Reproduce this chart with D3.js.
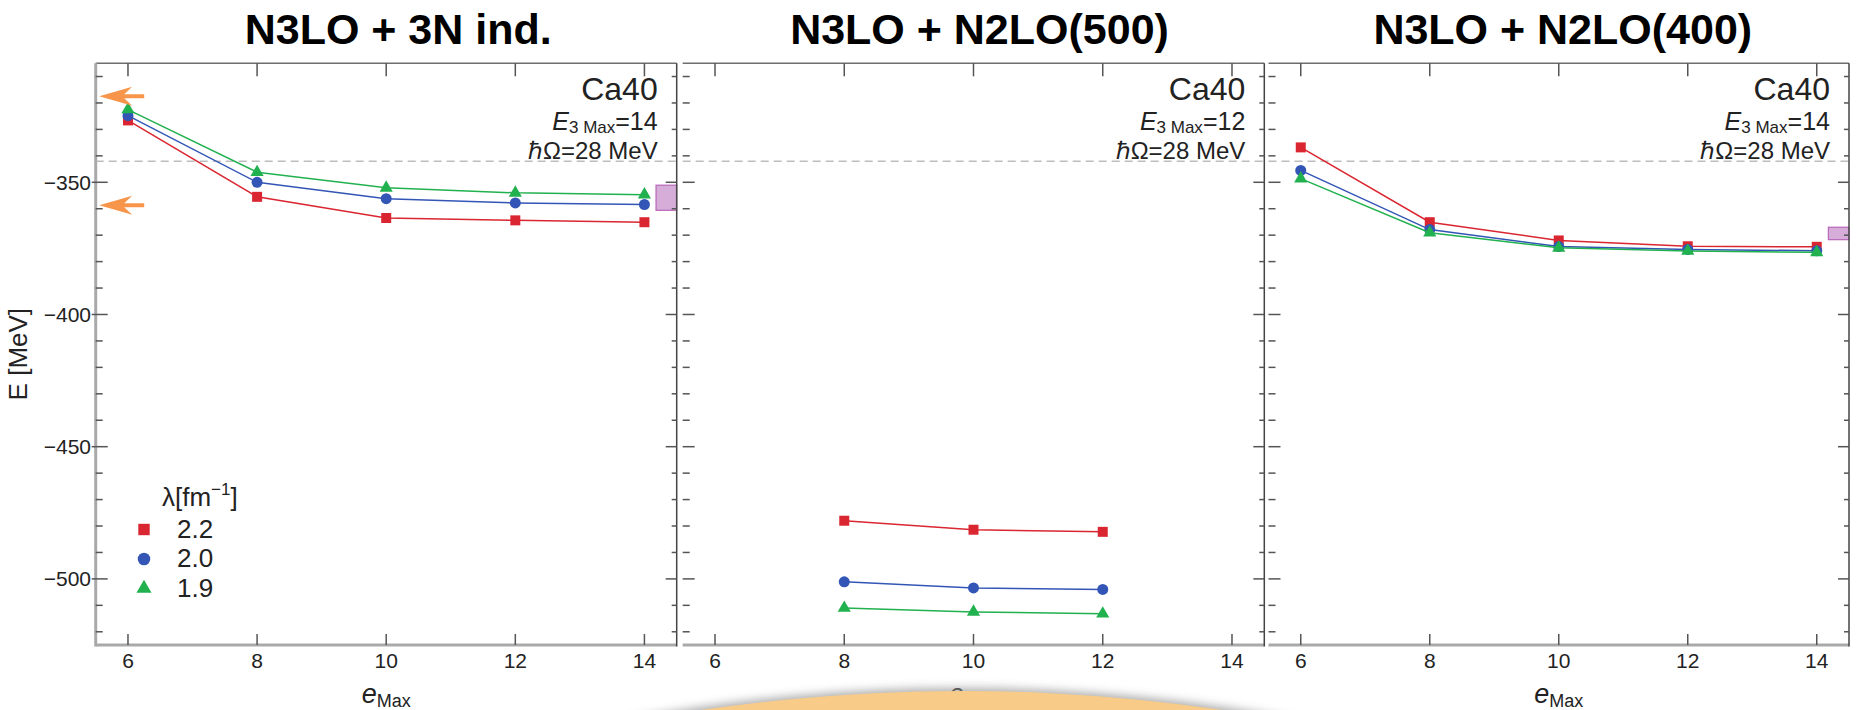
<!DOCTYPE html>
<html>
<head>
<meta charset="utf-8">
<script src="https://cdn.jsdelivr.net/npm/d3@7"></script>
<style>
  body { margin: 0; background: #fff; }
  svg { display: block; font-family: "Liberation Sans", Arial, Helvetica, sans-serif; }
</style>
</head>
<body>
<svg id="chart" width="1861" height="710"></svg>
<script>
// ---- data ----
const emaxAll = [6, 8, 10, 12, 14];
const emaxN2LO500 = [8, 10, 12];
const xTicks = [6, 8, 10, 12, 14];
const yMajorTicks = [-500, -450, -400, -350];
const panelTitles = ["N3LO + 3N ind.", "N3LO + N2LO(500)", "N3LO + N2LO(400)"];
const e3MaxValues = [14, 12, 14];
const lambdaLabels = ["2.2", "2.0", "1.9"];

// ground-state energy of 40Ca [MeV], lambda = 2.2 / 2.0 / 1.9 fm^-1
const ind3N_22 = [-326.6, -355.5, -363.5, -364.4, -365.1];
const ind3N_20 = [-324.8, -350.0, -356.2, -357.8, -358.4];
const ind3N_19 = [-322.5, -346.2, -352.1, -354.0, -354.7];

const n2lo500_22 = [-478.0, -481.4, -482.2];
const n2lo500_20 = [-501.1, -503.4, -504.0];
const n2lo500_19 = [-511.0, -512.5, -513.2];

const n2lo400_22 = [-336.8, -365.1, -372.0, -374.2, -374.4];
const n2lo400_20 = [-345.5, -367.9, -374.3, -375.4, -375.9];
const n2lo400_19 = [-348.6, -369.1, -374.8, -376.0, -376.5];

const expEnergy = -342.05;               // experimental binding energy
const arrowEnergies = [-317.5, -358.7];  // reference values marked with arrows
const band3Nind = [-360.6, -351.1];      // extrapolation band
const bandN2LO400 = [-371.7, -367.0];

// ---- styling ----
const seriesColors = ["#da2630", "#3356b6", "#22b14f"];
const seriesSymbols = [d3.symbolSquare, d3.symbolCircle, d3.symbolTriangle];
const symbolSizes = [100, 95, 75];

const panels = [
  { title: panelTitles[0], e3: e3MaxValues[0], x: emaxAll, series: [ind3N_22, ind3N_20, ind3N_19], band: band3Nind, px: [95.7, 676.7], titleShift: 12 },
  { title: panelTitles[1], e3: e3MaxValues[1], x: emaxN2LO500, series: [n2lo500_22, n2lo500_20, n2lo500_19], band: null, px: [682.7, 1264.3], titleShift: 6 },
  { title: panelTitles[2], e3: e3MaxValues[2], x: emaxAll, series: [n2lo400_22, n2lo400_20, n2lo400_19], band: bandN2LO400, px: [1268.5, 1849], titleShift: 4 }
];

const svg = d3.select("#chart");
const plotTop = 63.3, plotBottom = 645;
const y = d3.scaleLinear().domain([-525, -305]).range([plotBottom, plotTop]);
const yMinor = d3.range(-520, -305, 10);
const fmt = d3.format("d");

panels.forEach((p, i) => {
  const x = d3.scaleLinear().domain([5.5, 14.5]).range(p.px);
  const g = svg.append("g");
  const L = p.px[0], R = p.px[1];

  // experimental line
  g.append("line")
    .attr("x1", L).attr("x2", R)
    .attr("y1", y(expEnergy)).attr("y2", y(expEnergy))
    .attr("stroke", "#bdbdbd").attr("stroke-width", 1.6)
    .attr("stroke-dasharray", "8,5");

  // extrapolation band
  if (p.band) {
    g.append("rect")
      .attr("x", x(14.18)).attr("width", x(14.5) - x(14.18))
      .attr("y", y(p.band[1])).attr("height", y(p.band[0]) - y(p.band[1]))
      .attr("fill", "#d6acd8").attr("stroke", "#b866ba").attr("stroke-width", 1.2);
  }

  // series
  p.series.forEach((vals, s) => {
    const pts = vals.map((v, k) => [p.x[k], v]);
    g.append("path")
      .attr("d", d3.line().x(d => x(d[0])).y(d => y(d[1]))(pts))
      .attr("fill", "none").attr("stroke", seriesColors[s]).attr("stroke-width", 1.5);
    g.selectAll(null).data(pts).enter().append("path")
      .attr("transform", d => `translate(${x(d[0])},${y(d[1])})`)
      .attr("d", d3.symbol().type(seriesSymbols[s]).size(symbolSizes[s]))
      .attr("fill", seriesColors[s]);
  });

  // frame
  g.append("line").attr("x1", L).attr("x2", R).attr("y1", plotTop).attr("y2", plotTop)
    .attr("stroke", "#6e6e6e").attr("stroke-width", 1.5);
  g.append("line").attr("x1", L).attr("x2", R).attr("y1", plotBottom).attr("y2", plotBottom)
    .attr("stroke", "#a9a9a9").attr("stroke-width", 3);
  g.append("line").attr("x1", R).attr("x2", R).attr("y1", plotTop).attr("y2", plotBottom + 1.5)
    .attr("stroke", "#444").attr("stroke-width", 1.5);
  if (i === 0) {
    g.append("line").attr("x1", L).attr("x2", L).attr("y1", plotTop).attr("y2", plotBottom + 1.5)
      .attr("stroke", "#a9a9a9").attr("stroke-width", 3);
  }

  const tickColor = "#555";
  // y ticks (left & right)
  yMinor.forEach(v => {
    const major = v % 50 === 0;
    const yy = y(v);
    g.append("line")
      .attr("x1", i === 0 ? (major ? L - 4 : L) : L)
      .attr("x2", L + (major ? 12 : 7))
      .attr("y1", yy).attr("y2", yy)
      .attr("stroke", tickColor).attr("stroke-width", 1.5);
    g.append("line")
      .attr("x1", R - (major ? 11 : 5)).attr("x2", R)
      .attr("y1", yy).attr("y2", yy)
      .attr("stroke", tickColor).attr("stroke-width", 1.5);
  });
  // x ticks (top & bottom)
  xTicks.forEach(t => {
    g.append("line").attr("x1", x(t)).attr("x2", x(t)).attr("y1", plotTop).attr("y2", plotTop + 13)
      .attr("stroke", tickColor).attr("stroke-width", 1.5);
    g.append("line").attr("x1", x(t)).attr("x2", x(t)).attr("y1", plotBottom - 11).attr("y2", plotBottom)
      .attr("stroke", tickColor).attr("stroke-width", 1.5);
    g.append("text").attr("x", x(t)).attr("y", 668)
      .attr("text-anchor", "middle").attr("font-size", 21).attr("fill", "#222")
      .text(fmt(t));
  });

  // title
  g.append("text").attr("x", (L + R) / 2 + p.titleShift).attr("y", 44)
    .attr("text-anchor", "middle").attr("font-size", 43).attr("font-weight", "bold")
    .attr("fill", "#000").text(p.title);

  // nucleus / model-space annotation
  const ax = R - 19;
  g.append("text").attr("x", ax).attr("y", 100).attr("text-anchor", "end")
    .attr("font-size", 32).attr("fill", "#222").text("Ca40");
  const e3 = g.append("text").attr("x", ax).attr("y", 130).attr("text-anchor", "end")
    .attr("font-size", 25).attr("fill", "#222");
  e3.append("tspan").attr("font-style", "italic").text("E");
  e3.append("tspan").attr("font-size", 17).attr("dy", 3).text("3 Max");
  e3.append("tspan").attr("dy", -3).text("=" + p.e3);
  g.append("text").attr("x", ax).attr("y", 159).attr("text-anchor", "end")
    .attr("font-size", 24).attr("fill", "#222").text("ℏΩ=28 MeV");

  // x label
  const xl = g.append("text").attr("x", (L + R) / 2).attr("y", 703)
    .attr("text-anchor", "middle").attr("font-size", 27).attr("fill", "#222");
  xl.append("tspan").attr("font-style", "italic").text("e");
  xl.append("tspan").attr("font-size", 18).attr("dy", 4).text("Max");

  if (i === 0) {
    // y tick labels
    yMajorTicks.forEach(v => {
      g.append("text").attr("x", 91).attr("y", y(v))
        .attr("dy", "0.36em").attr("text-anchor", "end")
        .attr("font-size", 21).attr("fill", "#222").text(fmt(v));
    });
    // y label
    g.append("text").attr("transform", `translate(27,${(plotTop + plotBottom) / 2}) rotate(-90)`)
      .attr("text-anchor", "middle").attr("font-size", 26).attr("fill", "#222")
      .text("E [MeV]");

    // reference arrows
    arrowEnergies.forEach(v => {
      const tx = x(5.5) + 3.5, ty = y(v);
      g.append("path")
        .attr("d", `M${tx},${ty} L${tx + 33},${ty - 9.5} L${tx + 25},${ty - 2} L${tx + 45},${ty - 2} L${tx + 45},${ty + 2} L${tx + 25},${ty + 2} L${tx + 33},${ty + 9.5} Z`)
        .attr("fill", "#f7964a");
    });

    // legend
    const lg = g.append("g");
    const lh = lg.append("text").attr("x", 162).attr("y", 506).attr("font-size", 26).attr("fill", "#222");
    lh.append("tspan").text("λ[fm");
    lh.append("tspan").attr("font-size", 17).attr("dy", -11).text("−1");
    lh.append("tspan").attr("dy", 11).text("]");
    lambdaLabels.forEach((lab, s) => {
      const yy = 529.5 + s * 29.5;
      lg.append("path").attr("transform", `translate(144,${yy})`)
        .attr("d", d3.symbol().type(seriesSymbols[s]).size(symbolSizes[s] * 1.3))
        .attr("fill", seriesColors[s]);
      lg.append("text").attr("x", 177).attr("y", yy + 8).attr("font-size", 26)
        .attr("fill", "#222").text(lab);
    });
  }
});

// orange disc overlapping the lower edge
const defs = svg.append("defs");
defs.append("filter").attr("id", "soft").attr("x", "-10%").attr("y", "-10%").attr("width", "120%").attr("height", "120%")
  .append("feGaussianBlur").attr("stdDeviation", 5);
svg.append("circle").attr("cx", 962).attr("cy", 691 + 1800 - 3).attr("r", 1800)
  .attr("fill", "#9a9a9a").attr("filter", "url(#soft)").attr("opacity", 0.8);
svg.append("circle").attr("cx", 962).attr("cy", 691 + 1800).attr("r", 1800)
  .attr("fill", "#f8cc88");
</script>
</body>
</html>
